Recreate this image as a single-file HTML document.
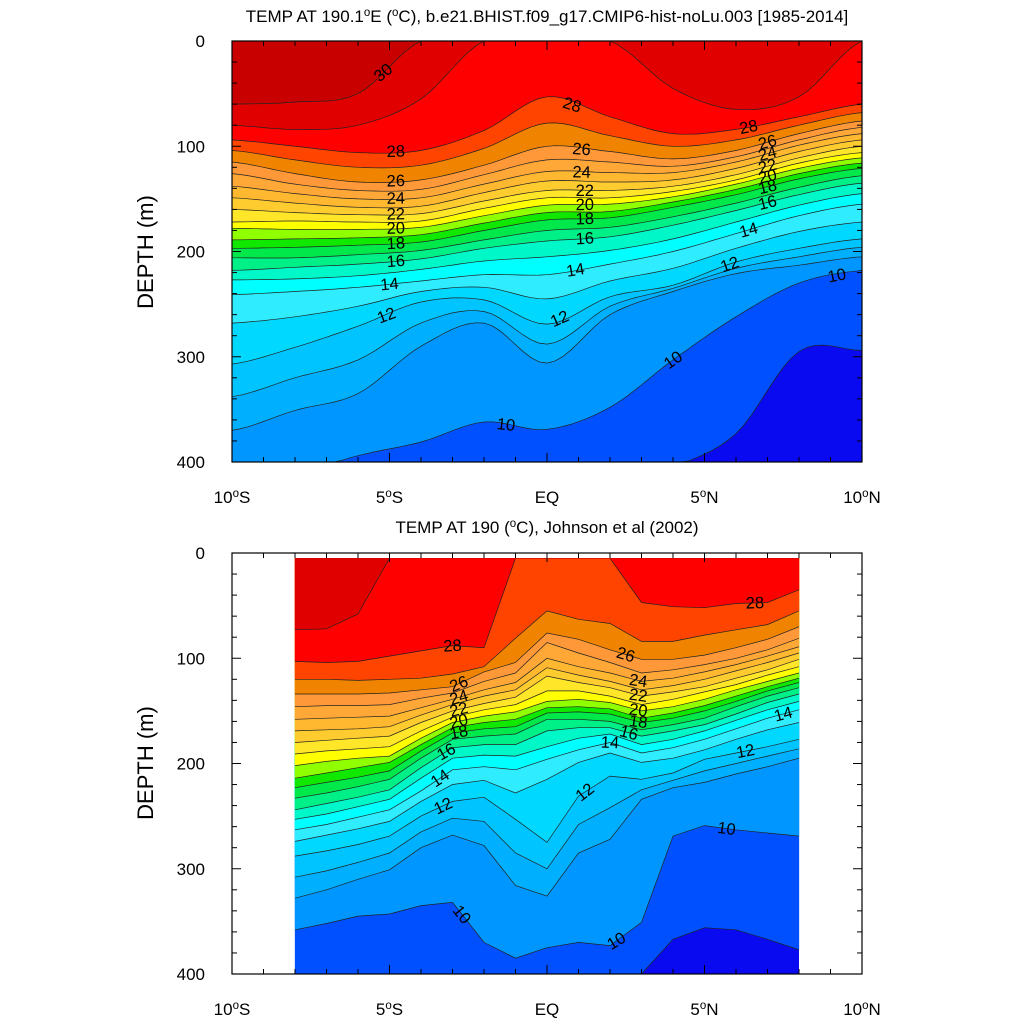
<!DOCTYPE html>
<html><head><meta charset="utf-8"><title>TEMP sections</title>
<style>
html,body{margin:0;padding:0;background:#fff;}
svg{display:block;font-family:"Liberation Sans",sans-serif;}
</style></head>
<body>
<svg id="fig" width="1024" height="1024" viewBox="0 0 1024 1024" xmlns="http://www.w3.org/2000/svg">
<rect x="0" y="0" width="1024" height="1024" fill="#fff"/>
<text x="547" y="22" font-size="17" text-anchor="middle">TEMP AT 190.1<tspan dy="-6" font-size="11.5">o</tspan><tspan dy="6">E (</tspan><tspan dy="-6" font-size="11.5">o</tspan><tspan dy="6">C), b.e21.BHIST.f09_g17.CMIP6-hist-noLu.003 [1985-2014]</tspan></text>
<text x="547" y="533" font-size="17" text-anchor="middle">TEMP AT 190 (<tspan dy="-6" font-size="11.5">o</tspan><tspan dy="6">C), Johnson et al (2002)</tspan></text>
<text transform="translate(153,252) rotate(-90)" font-size="22" text-anchor="middle">DEPTH (m)</text>
<text transform="translate(153,763) rotate(-90)" font-size="22" text-anchor="middle">DEPTH (m)</text>
<g id="topPlot"></g>
<g id="botPlot"></g>
</svg>
<script>
// ---- contour levels (°C) and band colours ----
const levels = [9,10,11,11.5,12,13,14,15,16,17,18,19,20,21,22,23,24,25,26,27,28,29,30];
const bandColors = ['#0a0af0','#0050ff','#0096ff','#00b0ff','#00c4ff','#00d8ff','#30ecff','#00ffff','#00f8c8','#00f088','#00e84a','#10e800','#90ff00','#ffff00','#ffe628','#ffcc30','#ffb830','#ffa838','#ff9838','#f08400','#ff4400','#ff0000','#e00000','#c80000'];

// ---- top panel (model): isotherm depths (m) at each latitude ----
const topLats = [-10,-8,-6,-4,-2,0,2,4,6,8,10];
const top_t09 = [470,460,450,440,430,430,425,405,373,295,294];
const top_t10 = [425,412,394,381,362,369,348,303,262,230,218];
const top_t11 = [370,351,335,290,268,306,260,238,221,213,205];
const top_t115 = [338,320,303,268,257,288,252,235,216,205,196];
const top_t12 = [307,291,271,248,246,269,243,232,210,197,188];
const top_t13 = [268,262,252,238,234,245,228,216,197,181,172];
const top_t14 = [241,238,234,228,222,222,212,200,183,166,155];
const top_t15 = [227,226,223,217,209,205,199,188,172,156,145];
const top_t16 = [218,215,212,207,197,190,186,175,161,146,135];
const top_t17 = [206,206,203,199,189,180,177,167,154,139,128];
const top_t18 = [197,196,194,191,180,170,168,158,146,131,121];
const top_t19 = [189,188,187,184,173,163,162,153,141,126,116];
const top_t20 = [178,179,179,177,166,156,155,148,136,121,111];
const top_t21 = [172,171,172,171,159,149,149,143,132,116,106];
const top_t22 = [160,163,165,164,152,142,142,138,127,111,100];
const top_t23 = [149,154,158,157,144,133,134,132,121,105,94];
const top_t24 = [138,145,150,149,136,124,125,125,115,99,88];
const top_t25 = [126,136,142,141,127,113,115,119,110,94,82];
const top_t26 = [115,126,134,132,118,100,105,112,104,88,76];
const top_t27 = [104,113,120,118,102,78,90,100,94,80,68];
const top_t28 = [94,100,106,104,85,53,72,88,84,72,60];
const top_t29 = [80,84,80,55,0,0,0,45,65,53,0];
const top_t30 = [60,58,50,0,0,0,0,0,0,0,0];
const topDepths = [top_t09,top_t10,top_t11,top_t115,top_t12,top_t13,top_t14,top_t15,top_t16,top_t17,top_t18,top_t19,top_t20,top_t21,top_t22,top_t23,top_t24,top_t25,top_t26,top_t27,top_t28,top_t29,top_t30];
const topLabelLevels = [30,28,26,24,22,20,18,16,14,12,10,28,26,24,22,20,18,16,14,12,10,28,26,24,22,20,18,16,14,12,10];
const topLabelLats  = [-5.2,-4.8,-4.8,-4.8,-4.8,-4.8,-4.8,-4.8,-5,-5.1,-1.3,0.8,1.1,1.1,1.2,1.2,1.2,1.2,0.9,0.4,4,6.4,7,7,7,7,7,7,6.4,5.8,9.2];

// ---- bottom panel (Johnson et al. 2002) ----
const botLats = [-8,-7,-6,-5,-4,-3,-2,-1,0,1,2,3,4,5,6,7,8];
const bot_t09 = [420,420,420,420,420,420,420,420,420,420,425,430,367,356,358,367,377];
const bot_t10 = [358,352,345,343,335,332,370,385,375,370,373,351,269,259,263,266,269];
const bot_t11 = [328,320,310,301,280,268,278,316,326,285,272,234,223,218,210,203,195];
const bot_t115 = [308,302,294,285,265,252,255,285,300,258,242,225,216,207,200,193,186];
const bot_t12 = [288,283,277,269,250,236,232,253,275,231,212,215,209,196,190,184,177];
const bot_t13 = [274,268,262,255,236,220,216,228,215,199,190,199,195,187,177,168,161];
const bot_t14 = [263,258,251,244,226,206,203,206,196,187,180,190,185,177,167,157,149];
const bot_t15 = [253,248,241,234,214,195,192,193,184,176,172,182,177,169,159,149,141];
const bot_t16 = [244,238,232,225,204,185,182,182,169,166,166,174,169,163,153,142,134];
const bot_t17 = [233,228,222,215,195,177,174,172,158,158,160,168,163,157,146,136,128];
const bot_t18 = [223,218,213,207,188,171,167,165,152,151,153,161,157,150,141,131,123];
const bot_t19 = [214,209,204,199,182,166,161,158,147,146,148,157,152,145,136,127,119];
const bot_t20 = [202,198,195,193,176,161,155,151,141,139,142,150,146,139,130,122,114];
const bot_t21 = [191,188,186,184,169,156,149,144,131,131,136,144,139,132,125,116,108];
const bot_t22 = [180,178,176,174,161,150,143,137,117,123,128,136,132,127,119,111,101];
const bot_t23 = [169,168,167,165,154,144,136,130,109,116,122,130,126,120,112,104,95];
const bot_t24 = [158,157,156,155,147,139,130,123,100,108,114,122,119,113,106,98,89];
const bot_t25 = [146,145,145,144,138,133,122,114,85,95,104,114,111,106,100,92,81];
const bot_t26 = [134,134,134,133,130,127,113,104,76,82,92,101,101,97,90,82,70];
const bot_t27 = [120,120,121,120,119,115,108,81,55,63,67,84,84,78,73,68,55];
const bot_t28 = [103,104,103,98,93,88,90,0,0,0,0,47,51,52,48,47,35];
const bot_t29 = [73,72,58,0,0,0,0,0,0,0,0,0,0,0,0,0,0];
const bot_t30 = [0,0,0,0,0,0,0,0,0,0,0,0,0,0,0,0,0];
const botDepths = [bot_t09,bot_t10,bot_t11,bot_t115,bot_t12,bot_t13,bot_t14,bot_t15,bot_t16,bot_t17,bot_t18,bot_t19,bot_t20,bot_t21,bot_t22,bot_t23,bot_t24,bot_t25,bot_t26,bot_t27,bot_t28,bot_t29,bot_t30];
const botLabelLevels = [28,26,24,22,20,18,16,14,12,10,26,24,22,20,18,16,14,12,10,28,14,12,10];
const botLabelLats  = [-3,-2.8,-2.8,-2.8,-2.8,-2.8,-3.2,-3.4,-3.3,-2.7,2.5,2.9,2.9,2.9,2.9,2.6,2,1.2,2.2,6.6,7.5,6.3,5.7];

// ---- axis tick labels ----
const depthTicks = [0,100,200,300,400];
const latTicks = [-10,-5,0,5,10];
const latTickLabels = ['10°S','5°S','EQ','5°N','10°N'];

const NS = 'http://www.w3.org/2000/svg';
function mk(tag, attrs, parent){
  const e = document.createElementNS(NS, tag);
  for (const k in attrs) e.setAttribute(k, attrs[k]);
  parent.appendChild(e);
  return e;
}
function catmull(lats, vals, smooth){
  const pts = [];
  if (!smooth){ for (let i=0;i<lats.length;i++) pts.push([lats[i], vals[i]]); return pts; }
  const n = lats.length, S = 8;
  for (let i=0;i<n-1;i++){
    const p0 = vals[Math.max(0,i-1)], p1 = vals[i], p2 = vals[i+1], p3 = vals[Math.min(n-1,i+2)];
    for (let s=0;s<S;s++){
      const t = s/S, t2=t*t, t3=t2*t;
      const v = 0.5*((2*p1)+(-p0+p2)*t+(2*p0-5*p1+4*p2-p3)*t2+(-p0+3*p1-3*p2+p3)*t3);
      pts.push([lats[i]+(lats[i+1]-lats[i])*t, v]);
    }
  }
  pts.push([lats[n-1], vals[n-1]]);
  return pts;
}
function interpAt(lats, vals, lat){
  for (let i=0;i<lats.length-1;i++){
    if (lat>=lats[i] && lat<=lats[i+1]){
      const f=(lat-lats[i])/(lats[i+1]-lats[i]);
      return vals[i]+(vals[i+1]-vals[i])*f;
    }
  }
  return vals[vals.length-1];
}

function drawPanel(g, cfg){
  const X = lat => cfg.left + (lat+10)/20*(cfg.right-cfg.left);
  const Y = d => cfg.top + d/400*(cfg.bottom-cfg.top);
  const clipId = cfg.id+'clip';
  const defs = mk('defs', {}, g);
  const cp = mk('clipPath', {id: clipId}, defs);
  mk('rect', {x: X(cfg.lats[0]), y: Y(cfg.surface)+0.8, width: X(cfg.lats[cfg.lats.length-1])-X(cfg.lats[0]), height: Y(400)-Y(cfg.surface)-0.8}, cp);
  const fills = mk('g', {}, g);
  
  
  const base = mk('rect', {x: X(cfg.lats[0]), y: Y(cfg.surface), width: X(cfg.lats[cfg.lats.length-1])-X(cfg.lats[0]), height: Y(400)-Y(cfg.surface), fill: bandColors[0]}, fills);
  
  
  const curves = [];
  for (let k=0;k<levels.length;k++){
    const pts = catmull(cfg.lats, cfg.depths[k], cfg.smooth).map(p => [p[0], Math.min(400, Math.max(cfg.surface, p[1]))]);
    curves.push(pts);
    let d = 'M'+X(pts[0][0]).toFixed(1)+','+Y(cfg.surface).toFixed(1);
    for (const p of pts) d += 'L'+X(p[0]).toFixed(1)+','+Y(p[1]).toFixed(1);
    d += 'L'+X(pts[pts.length-1][0]).toFixed(1)+','+Y(cfg.surface).toFixed(1)+'Z';
    const band = mk('path', {d: d, fill: bandColors[k+1], stroke: bandColors[k+1], 'stroke-width': 0.3}, fills);
    
    
  }
  const lines = mk('g', {'clip-path': 'url(#'+clipId+')'}, g);
  
  
  for (let k=0;k<levels.length;k++){
    const pts = curves[k];
    const ptsStr = pts.map(p => X(p[0]).toFixed(1)+','+Y(p[1]).toFixed(1)).join(' ');
    const ln = mk('polyline', {points: ptsStr, fill: 'none', stroke: '#222', 'stroke-width': 0.7}, lines);
    
    
  }
  const lg = mk('g', {}, g);
  
  
  for (let i=0;i<cfg.labelLevels.length;i++){
    const k = levels.indexOf(cfg.labelLevels[i]);
    const lat = cfg.labelLats[i];
    const dep = interpAt(cfg.lats, cfg.depths[k], lat);
    const d1 = interpAt(cfg.lats, cfg.depths[k], lat-0.3), d2 = interpAt(cfg.lats, cfg.depths[k], lat+0.3);
    let ang = Math.atan2(Y(d2)-Y(d1), X(lat+0.3)-X(lat-0.3))*180/Math.PI;
    ang = Math.max(-60, Math.min(60, ang));
    const tx = X(lat), ty = Y(dep);
    const t = mk('text', {x: tx, y: ty+5.5, 'font-size': 16.5, 'text-anchor': 'middle', fill: '#000', transform: 'rotate('+ang.toFixed(1)+' '+tx.toFixed(1)+' '+ty.toFixed(1)+')'}, lg);
    t.textContent = String(cfg.labelLevels[i]);
    
    
  }
  const fr = mk('rect', {x: cfg.left, y: cfg.top, width: cfg.right-cfg.left, height: cfg.bottom-cfg.top, fill: 'none', stroke: '#000', 'stroke-width': 1.2}, g);
  
  
  const tg = mk('g', {stroke: '#000', 'stroke-width': 1}, g);
  
  
  for (let lat=-10; lat<=10; lat++){
    const major = latTicks.indexOf(lat) >= 0;
    const L = major ? 9 : 5;
    mk('line', {x1: X(lat), x2: X(lat), y1: cfg.bottom, y2: cfg.bottom-L}, tg);
    mk('line', {x1: X(lat), x2: X(lat), y1: cfg.top, y2: cfg.top+L}, tg);
  }
  for (let d=0; d<=400; d+=20){
    const major = depthTicks.indexOf(d) >= 0;
    const L = major ? 9 : 5;
    mk('line', {x1: cfg.left, x2: cfg.left+L, y1: Y(d), y2: Y(d)}, tg);
    mk('line', {x1: cfg.right, x2: cfg.right-L, y1: Y(d), y2: Y(d)}, tg);
  }
  const yl = mk('g', {'font-size': 17, 'text-anchor': 'end'}, g);
  
  
  for (const d of depthTicks){
    const t = mk('text', {x: cfg.left-27, y: Y(d)+6}, yl);
    t.textContent = String(d);
    
    
  }
  const xl = mk('g', {'font-size': 17, 'text-anchor': 'middle'}, g);
  
  
  for (let i=0;i<latTicks.length;i++){
    const lab = latTickLabels[i];
    const t = mk('text', {x: X(latTicks[i]), y: cfg.bottom+41}, xl);
    if (lab.indexOf('°') >= 0){
      const parts = lab.split('°');
      t.appendChild(document.createTextNode(parts[0]));
      const sup = mk('tspan', {dy: -6, 'font-size': 11.5}, t);
      sup.textContent = 'o';
      const rest = mk('tspan', {dy: 6}, t);
      rest.textContent = parts[1];
    } else {
      t.textContent = lab;
    }
    
    
  }
}

drawPanel(document.getElementById('topPlot'), {id:'top', left:232, right:862, top:41, bottom:462, surface:0, lats: topLats, depths: topDepths, smooth: true, labelLevels: topLabelLevels, labelLats: topLabelLats});
drawPanel(document.getElementById('botPlot'), {id:'bot', left:232, right:862, top:553, bottom:974, surface:5, lats: botLats, depths: botDepths, smooth: false, labelLevels: botLabelLevels, labelLats: botLabelLats});
</script>
</body></html>
